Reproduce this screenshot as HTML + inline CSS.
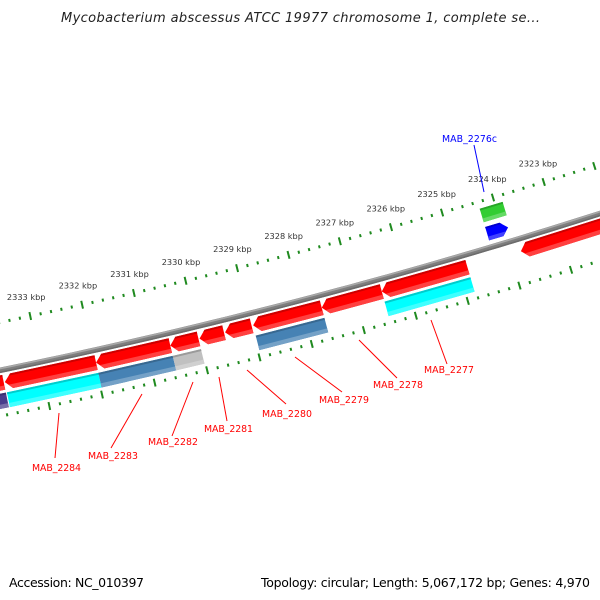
<!DOCTYPE html>
<html><head><meta charset="utf-8"><style>
html,body{margin:0;padding:0;background:#fff;}
svg{display:block;}
</style></head><body>
<svg id="map" width="600" height="600" viewBox="0 0 600 600" xmlns="http://www.w3.org/2000/svg">
<rect x="0" y="0" width="600" height="600" fill="#fff"/>
<g id="rings"></g>
<g id="feats"></g>
<g id="labels" font-family="'DejaVu Sans','Liberation Sans',sans-serif" font-size="9.4">
  <line x1="474" y1="145" x2="484" y2="192" stroke="#0000ff" stroke-width="1"/>
  <text x="442" y="142" fill="#0000ff" textLength="55">MAB_2276c</text>
  <line x1="431" y1="320" x2="447" y2="364" stroke="#ff0000"/>
  <text x="424" y="373" fill="#ff0000" textLength="50">MAB_2277</text>
  <line x1="359" y1="340" x2="397" y2="378" stroke="#ff0000"/>
  <text x="373" y="388" fill="#ff0000" textLength="50">MAB_2278</text>
  <line x1="295" y1="357" x2="342" y2="392" stroke="#ff0000"/>
  <text x="319" y="403" fill="#ff0000" textLength="50">MAB_2279</text>
  <line x1="247" y1="370" x2="286" y2="404" stroke="#ff0000"/>
  <text x="262" y="417" fill="#ff0000" textLength="50">MAB_2280</text>
  <line x1="219" y1="377" x2="227" y2="421" stroke="#ff0000"/>
  <text x="204" y="432" fill="#ff0000" textLength="49">MAB_2281</text>
  <line x1="193" y1="382" x2="172" y2="436" stroke="#ff0000"/>
  <text x="148" y="445" fill="#ff0000" textLength="50">MAB_2282</text>
  <line x1="142" y1="394" x2="111" y2="448" stroke="#ff0000"/>
  <text x="88" y="459" fill="#ff0000" textLength="50">MAB_2283</text>
  <line x1="59" y1="413" x2="55" y2="458" stroke="#ff0000"/>
  <text x="32" y="471" fill="#ff0000" textLength="49">MAB_2284</text>
</g>
<text x="61" y="22" font-family="'DejaVu Sans','Liberation Sans',sans-serif" font-style="italic" font-size="13" fill="#222" textLength="479">Mycobacterium abscessus ATCC 19977 chromosome 1, complete se...</text>
<text x="9" y="587" font-family="'DejaVu Sans','Liberation Sans',sans-serif" font-size="12.5" fill="#000" textLength="135">Accession: NC_010397</text>
<text x="261" y="587" font-family="'DejaVu Sans','Liberation Sans',sans-serif" font-size="12.5" fill="#000" textLength="329">Topology: circular; Length: 5,067,172 bp; Genes: 4,970</text>
</svg>
<script>
// ---- data (genome positions in kbp) ----
const majorTicks = [2323,2324,2325,2326,2327,2328,2329,2330,2331,2332,2333];
const tickLabels = ["2323 kbp","2324 kbp","2325 kbp","2326 kbp","2327 kbp","2328 kbp","2329 kbp","2330 kbp","2331 kbp","2332 kbp","2333 kbp"];
const cdsStarts = [2333.74, 2331.98, 2330.56, 2330.02, 2329.53, 2329.00, 2327.65, 2326.49, 2324.83, 2321.50];
const cdsEnds   = [2335.50, 2333.72, 2331.98, 2330.56, 2330.00, 2329.51, 2328.97, 2327.65, 2326.49, 2323.79];
const cdsNames  = ["mab-2285","mab-2284","mab-2283","mab-2282","mab-2281","mab-2280","mab-2279","mab-2278","mab-2277","mab-2275"];
const catStarts = [2333.74, 2331.98, 2330.56, 2330.02, 2327.65, 2324.83];
const catEnds   = [2335.50, 2333.72, 2331.98, 2330.56, 2328.97, 2326.49];
const catColors = ["#483d8b","#00ffff","#4682b4","#c0c0c0","#4682b4","#00ffff"];
const catNames  = ["mab-2285","mab-2284","mab-2283","mab-2282","mab-2279","mab-2277"];
const fwdStart = [2323.89];
const fwdEnd   = [2324.30];
const rnaStart = [2323.85];
const rnaEnd   = [2324.30];

// ---- geometry ----
const CX=-1161, CY=-5298, K0=2333, T0=78.02, DEG=0.53;
function P(k,r){const t=(T0-(K0-k)*DEG)*Math.PI/180;return [CX+r*Math.cos(t),CY+r*Math.sin(t)];}
const NS='http://www.w3.org/2000/svg';
const rings=document.getElementById('rings'), feats=document.getElementById('feats');
function mk(tag,parent,attrs){const e=document.createElementNS(NS,tag);for(const a in attrs)e.setAttribute(a,attrs[a]);parent.appendChild(e);return e;}
function pts(a){return a.map(p=>p[0].toFixed(2)+','+p[1].toFixed(2)).join(' ');}
function arcPts(k1,k2,r){const a=[];const n=60;for(let i=0;i<=n;i++){a.push(P(k1+(k2-k1)*i/n,r));}return a;}

// backbone
const KMIN=2321, KMAX=2335.5;
[[5786,'#7e7e7e',5.5],[5784.3,'#a8a8a8',1.6],[5788,'#6c6c6c',1.5]].forEach((b,i)=>{
  const e=mk('polyline',rings,{points:pts(arcPts(KMIN,KMAX,b[0])),fill:'none',stroke:b[1],'stroke-width':b[2]});
  
  
});

// tick rows
function tickRow(r,name){
  for(let i=Math.round(KMIN*5);i<=Math.round(KMAX*5);i++){
    const k=i/5; const major=(i%5===0);
    const h=major?4:1.5;
    const a=P(k,r-h), b=P(k,r+h);
    const e=mk('line',rings,{x1:a[0],y1:a[1],x2:b[0],y2:b[1],stroke:'#1f8a1f','stroke-width':2});
    
    
  }
}
tickRow(5739,'outer');
tickRow(5831,'inner');
majorTicks.forEach((k,i)=>{
  const p=P(k,5719.5);
  const e=mk('text',rings,{x:p[0],y:p[1]+3,'text-anchor':'middle','font-family':"'DejaVu Sans','Liberation Sans',sans-serif",'font-size':'8.2',fill:'#333'});
  e.textContent=tickLabels[i];
  
  
});

function shape(ks,ke,r1,r2,ra,rb,strand,head){
  const rm=(r1+r2)/2, hh=(r2-r1)/2;
  if(strand===-1){
    const len=ke-ks; const hd=Math.min(head,len*0.6);
    const ed=r=>ke-hd*Math.min(1,Math.abs(r-rm)/hh);
    const a=[P(ks,ra),P(ed(ra),ra)];
    if(ra<rm&&rb>rm)a.push(P(ke,rm));
    a.push(P(ed(rb),rb),P(ks,rb));return a;
  } else if(strand===1){
    const len=ke-ks; const hd=Math.min(head,len*0.6);
    const ed=r=>ks+hd*Math.min(1,Math.abs(r-rm)/hh);
    const a=[P(ke,ra),P(ed(ra),ra)];
    if(ra<rm&&rb>rm)a.push(P(ks,rm));
    a.push(P(ed(rb),rb),P(ke,rb));return a;
  }
  return [P(ks,ra),P(ke,ra),P(ke,rb),P(ks,rb)];
}
function shade(hex,f){const n=parseInt(hex.slice(1),16);let r=n>>16,g=(n>>8)&255,b=n&255;
  if(f<0){r*=1+f;g*=1+f;b*=1+f;}else{r+=(255-r)*f;g+=(255-g)*f;b+=(255-b)*f;}
  return 'rgb('+Math.round(r)+','+Math.round(g)+','+Math.round(b)+')';}
function feature(ks,ke,r1,r2,color,strand,name){
  const g=mk('g',feats,{});
  
  
  const head=0.13, h=r2-r1;
  mk('polygon',g,{points:pts(shape(ks,ke,r1,r2,r1,r2,strand,head)),fill:color});
  mk('polygon',g,{points:pts(shape(ks,ke,r1,r2,r1,r1+h*0.13,strand,head)),fill:shade(color,-0.2)});
  mk('polygon',g,{points:pts(shape(ks,ke,r1,r2,r1+h*0.72,r2,strand,head)),fill:shade(color,0.25)});
}
cdsStarts.forEach((s,i)=>feature(s,cdsEnds[i],5791,5806,'#ff0000',-1,'cds-'+cdsNames[i]));
catStarts.forEach((s,i)=>feature(s,catEnds[i],5809,5824,catColors[i],0,'category-'+catNames[i]));
rnaStart.forEach((s,i)=>feature(s,rnaEnd[i],5746,5760,'#32cd32',0,'rna-mab-2276c'));
fwdStart.forEach((s,i)=>feature(s,fwdEnd[i],5765,5779,'#0000ff',1,'cds-forward-mab-2276c'));
</script>
</body></html>
